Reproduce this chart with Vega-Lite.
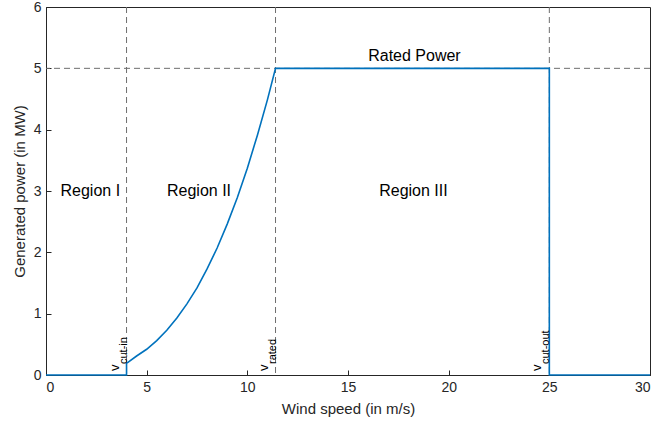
{
  "$schema": "https://vega.github.io/schema/vega-lite/v6.json",
  "width": 604,
  "height": 368,
  "autosize": {"type": "none"},
  "padding": {"left": 46, "top": 7, "right": 4, "bottom": 49},
  "config": {
    "view": {"stroke": "#262626", "strokeWidth": 1},
    "font": "Liberation Sans",
    "axis": {
      "grid": false,
      "domainColor": "#262626",
      "tickColor": "#262626",
      "labelColor": "#262626",
      "titleColor": "#262626",
      "labelFont": "Liberation Sans",
      "titleFont": "Liberation Sans",
      "labelFontSize": 14,
      "titleFontSize": 15,
      "titleFontWeight": "normal",
      "tickSize": -5
    }
  },
  "datasets": {
    "curve": [
      {"v": 0, "p": 0, "o": 1},
      {"v": 4, "p": 0, "o": 2},
      {"v": 4, "p": 0.19, "o": 3},
      {"v": 4.5, "p": 0.31, "o": 4},
      {"v": 5, "p": 0.42, "o": 5},
      {"v": 5.5, "p": 0.56, "o": 6},
      {"v": 6, "p": 0.73, "o": 7},
      {"v": 6.5, "p": 0.93, "o": 8},
      {"v": 7, "p": 1.16, "o": 9},
      {"v": 7.5, "p": 1.42, "o": 10},
      {"v": 8, "p": 1.73, "o": 11},
      {"v": 8.5, "p": 2.07, "o": 12},
      {"v": 9, "p": 2.46, "o": 13},
      {"v": 9.5, "p": 2.89, "o": 14},
      {"v": 10, "p": 3.37, "o": 15},
      {"v": 10.5, "p": 3.91, "o": 16},
      {"v": 11, "p": 4.49, "o": 17},
      {"v": 11.4, "p": 5, "o": 18},
      {"v": 25, "p": 5, "o": 19},
      {"v": 25, "p": 0, "o": 20},
      {"v": 30, "p": 0, "o": 21}
    ],
    "vlines": [{"v": 4}, {"v": 11.4}, {"v": 25}],
    "hlines": [{"p": 5}],
    "labels": [
      {"v": 2.2, "p": 3, "t": "Region I"},
      {"v": 7.6, "p": 3, "t": "Region II"},
      {"v": 18.25, "p": 3, "t": "Region III"},
      {"v": 18.3, "p": 5.2, "t": "Rated Power"}
    ],
    "vlabels": [
      {"v": 4, "p": 0, "t": "v"},
      {"v": 11.4, "p": 0, "t": "v"},
      {"v": 25, "p": 0, "t": "v"}
    ],
    "sublabels": [
      {"v": 4, "p": 0, "t": "cut-in"},
      {"v": 11.4, "p": 0, "t": "rated"},
      {"v": 25, "p": 0, "t": "cut-out"}
    ]
  },
  "encoding": {
    "x": {"field": "v", "type": "quantitative", "scale": {"domain": [0, 30], "nice": false}, "axis": {"values": [0, 5, 10, 15, 20, 25, 30], "title": "Wind speed (in m/s)", "labelPadding": 10, "titlePadding": 7}},
    "y": {"field": "p", "type": "quantitative", "scale": {"domain": [0, 6], "nice": false}, "axis": {"values": [0, 1, 2, 3, 4, 5, 6], "title": "Generated power (in MW)", "labelPadding": 10, "titlePadding": 6}}
  },
  "layer": [
    {
      "data": {"name": "vlines"},
      "mark": {"type": "rule", "color": "#6e6e6e", "strokeWidth": 1, "strokeDash": [6, 4]},
      "encoding": {"y": null}
    },
    {
      "data": {"name": "hlines"},
      "mark": {"type": "rule", "color": "#6e6e6e", "strokeWidth": 1, "strokeDash": [6, 4]},
      "encoding": {"x": null}
    },
    {
      "data": {"name": "curve"},
      "mark": {"type": "line", "color": "#0072BD", "strokeWidth": 1.6},
      "encoding": {"order": {"field": "o", "type": "quantitative"}}
    },
    {
      "data": {"name": "labels"},
      "mark": {"type": "text", "fontSize": 16, "color": "#000000", "font": "Liberation Sans"},
      "encoding": {"text": {"field": "t"}}
    },
    {
      "data": {"name": "vlabels"},
      "mark": {"type": "text", "fontSize": 13, "angle": 270, "align": "left", "baseline": "alphabetic", "dx": 4, "dy": -8, "color": "#000000"},
      "encoding": {"text": {"field": "t"}}
    },
    {
      "data": {"name": "sublabels"},
      "mark": {"type": "text", "fontSize": 11, "angle": 270, "align": "left", "baseline": "alphabetic", "dx": 11, "dy": 0, "color": "#000000"},
      "encoding": {"text": {"field": "t"}}
    }
  ]
}
